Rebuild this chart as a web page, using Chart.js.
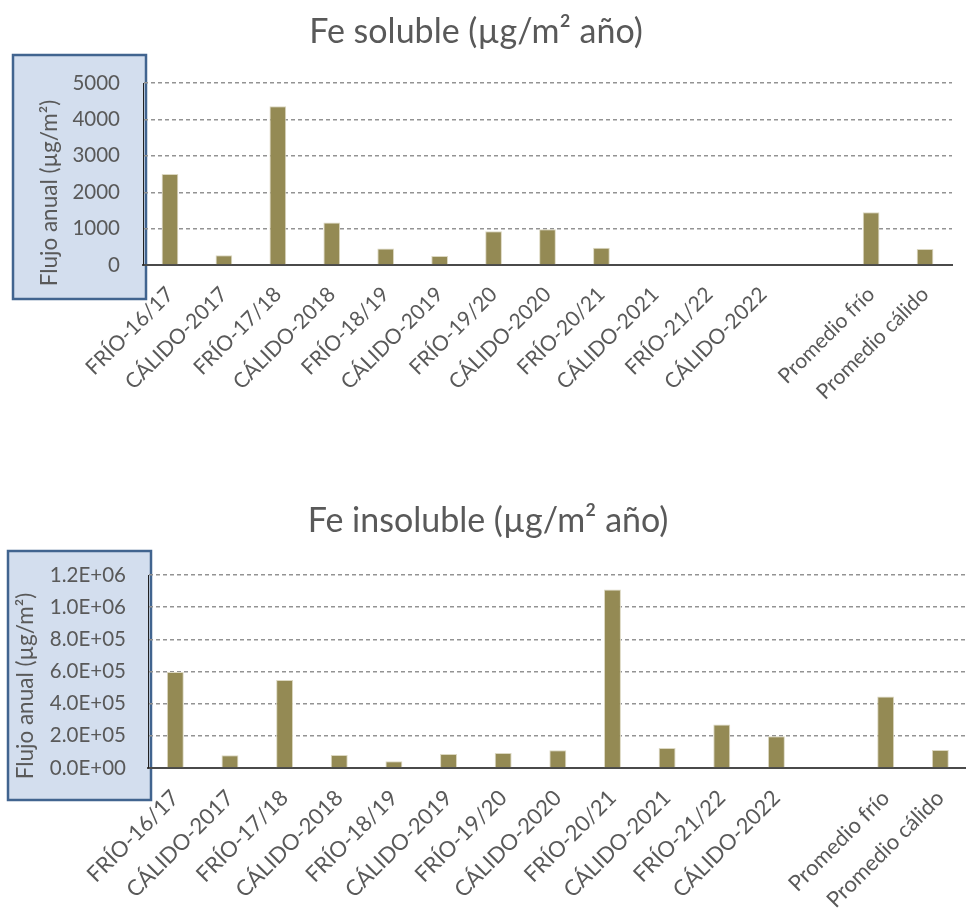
<!DOCTYPE html>
<html lang="es">
<head>
<meta charset="utf-8">
<title>Flujo anual de Fe</title>
<script src="https://cdn.jsdelivr.net/npm/chart.js@4.4.1/dist/chart.umd.min.js"></script>
<style>
  html, body { margin: 0; padding: 0; background: #ffffff; overflow: hidden; }
  #wrap { position: relative; width: 966px; height: 915px; overflow: hidden; }
  #c1 { position: absolute; left: 0; top: 0; }
  #c2 { position: absolute; left: 0; top: 450px; }
</style>
</head>
<body>
<div id="wrap">
  <canvas id="c1" width="978" height="450"></canvas>
  <canvas id="c2" width="976" height="465"></canvas>
</div>
<script>
// Periods (cold / warm seasons) and the two averages; one blank slot separates them
const categories = [
  'FRÍO-16/17', 'CÁLIDO-2017', 'FRÍO-17/18', 'CÁLIDO-2018', 'FRÍO-18/19',
  'CÁLIDO-2019', 'FRÍO-19/20', 'CÁLIDO-2020', 'FRÍO-20/21', 'CÁLIDO-2021',
  'FRÍO-21/22', 'CÁLIDO-2022', '', 'Promedio frío', 'Promedio cálido'
];

// Soluble Fe, annual flux (µg/m²)
const feSoluble = [2500, 266, 4360, 1165, 450, 248, 925, 980, 476, null, null, null, null, 1447, 440];

// Insoluble Fe, annual flux (µg/m²)
const feInsoluble = [597000, 79000, 547000, 81000, 42000, 87000, 94000, 110000, 1110000, 125000, 270000, 198000, null, 445000, 112000];

// Y tick labels
const solubleTicks = ['0', '1000', '2000', '3000', '4000', '5000'];
const insolubleTicks = ['0.0E+00', '2.0E+05', '4.0E+05', '6.0E+05', '8.0E+05', '1.0E+06', '1.2E+06'];

const titles = ['Fe soluble (µg/m² año)', 'Fe insoluble (µg/m² año)'];
const yTitle = 'Flujo anual (µg/m²)';

const FONT = 'Lato, "Open Sans", sans-serif';
const TEXT = '#595959';
const BAR = '#948A54';

// Shaded box behind the y axis with its rotated title
function axisBoxPlugin(box, titleX, titleY) {
  return {
    id: 'axisBox',
    beforeDraw(chart) {
      const ctx = chart.ctx;
      ctx.save();
      ctx.fillStyle = '#D3DEEE';
      ctx.fillRect(box.l, box.t, box.r - box.l, box.b - box.t);
      ctx.lineWidth = 2.5;
      ctx.strokeStyle = '#41648F';
      ctx.strokeRect(box.l, box.t, box.r - box.l, box.b - box.t);
      ctx.translate(titleX, titleY);
      ctx.rotate(-Math.PI / 2);
      ctx.fillStyle = TEXT;
      ctx.font = '22.5px ' + FONT;
      ctx.textAlign = 'center';
      ctx.textBaseline = 'middle';
      ctx.fillText(yTitle, 0, 0);
      ctx.restore();
    }
  };
}

function makeChart(canvasId, cfg) {
  return new Chart(document.getElementById(canvasId), {
    type: 'bar',
    data: {
      labels: categories,
      datasets: [{
        data: cfg.values,
        backgroundColor: BAR,
        borderColor: '#DCD8C2',
        borderWidth: 1,
        borderSkipped: 'bottom',
        categoryPercentage: 0.31,
        barPercentage: 1.0
      }]
    },
    options: {
      responsive: false,
      animation: false,
      events: [],
      layout: { padding: { left: 0, right: cfg.padRight, top: 0, bottom: 0 } },
      plugins: {
        legend: { display: false },
        tooltip: { enabled: false },
        title: {
          display: true,
          text: cfg.title,
          color: TEXT,
          font: { family: FONT, size: 34, weight: 'normal', lineHeight: 1.0 },
          padding: cfg.titlePad
        }
      },
      scales: {
        x: {
          grid: { display: false, drawTicks: false },
          border: { display: true, color: '#4A4A4A', width: 2 },
          ticks: {
            color: TEXT,
            font: { family: FONT, size: cfg.xFont },
            maxRotation: 45,
            minRotation: 45,
            autoSkip: false,
            padding: cfg.xPad
          },
          afterFit(scale) { scale.height = cfg.xHeight; }
        },
        y: {
          min: 0,
          max: cfg.max,
          grid: { color: '#939393', lineWidth: 1.4, drawTicks: false },
          border: { display: true, color: '#222222', width: 1, dash: [4, 3] },
          ticks: {
            stepSize: cfg.step,
            color: TEXT,
            font: { family: FONT, size: 20.5 },
            padding: cfg.tickPad,
            callback: (v, i) => cfg.tickLabels[i]
          },
          afterFit(scale) { scale.width = cfg.yWidth; }
        }
      }
    },
    plugins: [axisBoxPlugin(cfg.box, cfg.titleX, cfg.titleY)]
  });
}

makeChart('c1', {
  values: feSoluble,
  title: titles[0],
  max: 5000,
  step: 1000,
  tickLabels: solubleTicks,
  padRight: 26,
  titlePad: { top: 15, bottom: 34 },
  xHeight: 185,
  xFont: 21,
  xPad: 17,
  yWidth: 143,
  tickPad: 23,
  box: { l: 13, t: 55, r: 146, b: 299 },
  titleX: 50,
  titleY: 193
});

makeChart('c2', {
  values: feInsoluble,
  title: titles[1],
  max: 1200000,
  step: 200000,
  tickLabels: insolubleTicks,
  padRight: 0,
  titlePad: { top: 54, bottom: 37 },
  xHeight: 147,
  xFont: 22,
  xPad: 17,
  yWidth: 148,
  tickPad: 22,
  box: { l: 8, t: 101, r: 151, b: 350 },
  titleX: 26,
  titleY: 236
});
</script>
</body>
</html>
